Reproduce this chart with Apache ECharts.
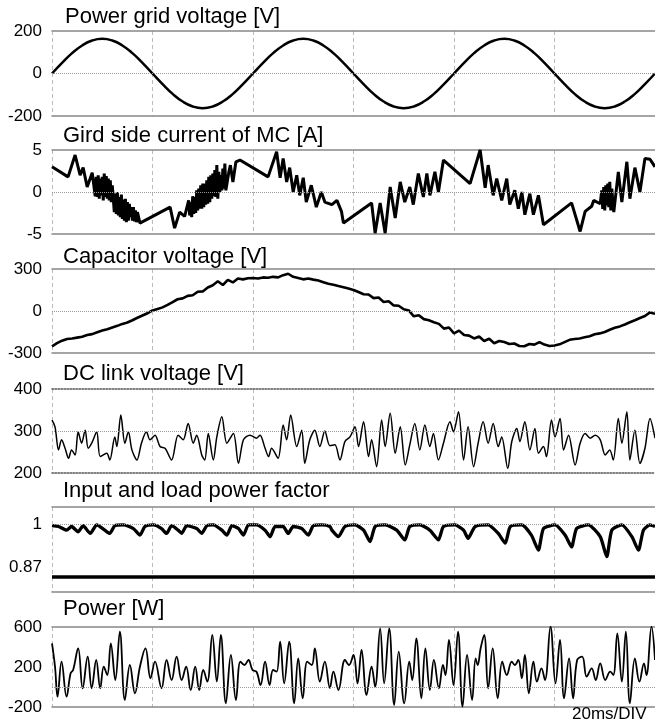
<!DOCTYPE html>
<html>
<head>
<meta charset="utf-8">
<script src="https://cdn.jsdelivr.net/npm/echarts@6/dist/echarts.min.js"></script>
<style>html,body{margin:0;padding:0;background:#fff}#main{width:655px;height:722px}</style>
</head>
<body>
<div id="main"></div>
<script>
// time axis in ms, 20ms per division
var timeTicks = [0, 20, 40, 60, 80, 100, 120];

// grid voltage, one value every 2 ms
var gridVoltage = [0, 50, 96, 132, 155, 163, 155, 132, 96, 50, 0, -50, -96, -132, -155, -163, -155, -132, -96, -50,
    0, 50, 96, 132, 155, 163, 155, 132, 96, 50, 0, -50, -96, -132, -155, -163, -155, -132, -96, -50,
    0, 50, 96, 132, 155, 163, 155, 132, 96, 50, 0, -50, -96, -132, -155, -163, -155, -132, -96, -50, 0];

// grid side current [ms, A]
var gridCurrent = [[0,3.0],[3.2,1.8],[4.6,4.4],[5.6,2.0],[6.2,2.9],[7.0,0.6],[8.0,2.3],
    [8.6,-0.5],[8.8,1.8],[9.0,-0.6],[9.2,2.0],[9.4,-0.8],[9.6,1.6],[9.8,-0.4],[10.0,1.8],[10.2,-1.0],[10.4,2.2],[10.6,-0.6],[10.8,1.9],[11.0,-0.8],[11.2,1.6],[11.4,-1.0],[11.6,1.4],[11.8,-1.2],[12.0,0.8],
    [12.2,0.6],[12.4,-2.4],[12.6,-0.2],[12.8,-2.6],[13.0,0.0],[13.2,-2.8],[13.4,-0.6],[13.6,-3.0],[13.8,-0.3],[14.0,-3.2],[14.2,-0.9],[14.4,-3.4],[14.6,-0.8],[14.8,-3.6],[15.0,-1.2],[15.2,-3.4],[15.4,-1.4],[15.6,-3.0],[15.8,-1.8],[16.0,-3.4],[16.2,-1.8],[16.4,-3.5],[16.6,-2.2],[16.8,-3.6],[17.0,-2.4],[17.5,-3.7],
    [23.5,-1.8],[24.4,-4.3],[25.4,-2.4],[26.4,-2.9],
    [27.2,-1.0],[27.4,-2.8],[27.6,-1.2],[27.8,-3.0],[28.0,-0.5],[28.2,-2.6],[28.4,-0.6],[28.6,-2.5],[28.8,0.2],[29.0,-2.2],[29.2,0.4],[29.4,-2.0],[29.6,0.8],[29.8,-2.0],[30.0,1.0],[30.2,-1.8],[30.4,1.0],[30.6,-1.5],[30.8,1.4],[31.0,-1.4],[31.2,1.8],[31.4,-1.2],[31.6,2.0],[31.8,-0.8],[32.0,2.2],[32.2,-0.5],[32.4,2.6],[32.6,-0.6],[32.8,3.2],[33.0,-0.8],[33.2,2.4],[33.4,0.0],[33.6,2.0],[33.8,0.2],[34.0,2.8],[34.2,0.4],[34.4,3.4],[34.6,0.2],[34.8,0.0],[35.2,2.4],[35.5,3.2],[36.0,1.2],[36.6,3.6],[37.4,3.8],
    [43.0,1.8],[44.7,4.8],[45.4,1.7],[46.0,4.0],[46.7,1.2],[47.3,2.9],[48.0,0.0],[48.7,2.0],[49.3,-0.4],[50.0,1.7],[50.6,-1.2],[51.6,0.8],[52.6,-1.8],[53.6,0.0],[54.3,-1.2],[55.7,-1.5],[56.7,-1.0],[57.6,-2.3],[58.0,-3.7],
    [63.6,-1.3],[64.3,-4.9],[65.3,-1.3],[66.3,-4.9],[67.3,0.6],[68.3,-3.1],[69.3,1.2],[70.2,-1.2],[71.2,0.6],[71.9,-1.5],[72.9,2.2],[73.9,-0.6],[74.6,2.2],[75.2,-0.4],[76.2,2.4],[76.9,0.0],[77.9,3.8],
    [83.2,1.0],[85.2,5.0],[86.2,0.5],[86.8,3.2],[87.8,-0.4],[88.5,1.6],[89.5,-1.0],[90.5,1.6],[91.1,-1.5],[92.1,0.2],[92.8,-2.0],[93.5,0.0],[94.1,-2.7],[95.1,-0.2],[95.8,-2.7],[96.8,-0.4],[97.8,-3.9],
    [103.4,-1.3],[105.1,-4.7],[106.1,-2.3],[107.4,-1.7],[107.8,-1.0],[109.1,-1.4],
    [109.4,0.2],[109.6,-2.0],[109.8,0.6],[110.0,-2.2],[110.2,0.8],[110.4,-1.6],[110.6,1.0],[110.8,-1.8],[111.0,1.2],[111.2,-2.2],[111.4,0.4],[111.8,-2.4],
    [112.7,2.4],[113.4,-1.2],[114.4,3.6],[115.0,-0.8],[116.0,2.9],[117.0,0.0],[118.0,4.0],[119.0,3.9],[120,3.0]];

// capacitor voltage, one value every 1 ms
var capVoltage = [-252,-230,-212,-200,-196,-190,-184,-172,-165,-152,-140,-130,-118,-106,-92,-82,-66,-48,-32,-16,
    4,14,26,44,64,84,90,108,112,138,140,168,184,212,186,222,204,232,226,234,
    236,232,240,238,244,240,256,266,244,236,226,232,224,218,206,194,188,178,170,160,
    150,136,120,118,92,96,64,70,40,38,12,4,-38,-30,-58,-66,-80,-92,-126,-118,
    -160,-140,-172,-176,-196,-182,-214,-198,-230,-214,-222,-236,-232,-250,-252,-236,-240,-222,-240,-250,
    -246,-238,-222,-206,-200,-196,-188,-180,-166,-160,-150,-134,-120,-110,-96,-80,-66,-50,-36,-10,-20];

// DC link voltage [ms, V]
var dcLink = [[0,326],[0.6,310],[1.3,255],[1.9,279],[2.6,259],[3.3,235],[3.9,255],[4.6,243],[5.2,298],[5.9,271],[6.6,302],[7.2,259],[7.9,271],[8.9,298],[9.6,239],[10.9,247],[11.5,231],[12.5,286],[12.9,263],[13.7,338],[14.5,271],[15.2,298],[15.9,255],[16.9,231],[17.8,271],[18.8,298],[19.5,279],
    [20.5,290],[21.5,263],[22.5,259],[23.8,231],[25.1,290],[26.1,279],[27.1,318],[28.1,271],[28.8,290],[29.8,243],[30.4,231],[31.1,294],[32.1,231],[32.8,286],[33.8,334],[34.8,271],[36.1,294],[37.1,223],[38.1,279],[39.4,290],
    [40.7,283],[41.4,290],[42.4,259],[43.1,239],[43.7,259],[45.0,235],[46.0,314],[46.7,279],[47.5,338],[48.7,263],[49.7,302],[50.3,223],[51.3,279],[52.3,302],[53.3,263],[54.3,300],[55.3,265],[56.3,267],[57.3,231],[58.3,275],[59.3,286],
    [60.3,310],[61.0,263],[62.0,322],[63.0,239],[63.6,279],[64.6,215],[65.6,326],[66.3,263],[67.3,342],[68.3,247],[69.3,310],[70.3,219],[71.2,267],[72.2,318],[73.2,255],[74.2,314],[75.2,263],[75.9,294],[76.9,231],[77.9,271],[79.2,322],[79.9,298],
    [80.9,346],[81.9,231],[82.8,310],[83.9,215],[84.8,271],[85.8,322],[86.8,271],[87.8,318],[88.8,263],[89.5,286],[90.7,211],[91.5,275],[92.5,306],[93.1,275],[94.1,322],[95.1,255],[96.1,306],[96.8,247],[97.8,263],[98.4,239],[99.4,326],
    [100.1,286],[101.1,330],[101.8,255],[102.8,290],[104.1,219],[105.1,271],[106.1,294],[107.1,283],[108.1,290],[109.1,279],[110.1,243],[111.0,255],[111.7,231],[112.7,330],[113.4,271],[114.4,346],[115.0,231],[116.0,302],[117.0,223],[118.0,259],[119.0,330],[120,283]];

// input power factor [ms, pf]
var inputPf = [[0,0.996],[1.3,0.994],[2.9,0.985],[3.9,0.994],[5.2,0.981],[6.2,0.996],[7.6,0.977],[8.9,0.998],[10.5,0.985],[11.5,0.977],[12.5,0.996],[14.2,0.998],[16.2,0.989],[17.5,0.973],[18.5,0.994],
    [20.2,0.998],[21.8,0.989],[22.8,0.977],[23.8,0.996],[25.1,0.985],[25.8,0.977],[26.8,0.996],[28.8,0.989],[29.8,0.977],[30.8,0.996],[32.1,0.998],[33.8,0.985],[34.8,0.973],[35.8,0.996],[37.1,0.989],[38.1,0.973],[39.1,0.998],
    [40.7,0.998],[42.4,0.985],[43.4,0.969],[44.4,0.994],[46.0,0.994],[47.0,0.977],[48.0,0.994],[49.7,0.989],[51.0,0.973],[52.0,0.996],[53.7,0.998],[55.3,0.994],[55.7,0.985],[57.0,0.969],[58.3,0.994],
    [60.3,0.998],[62.0,0.985],[63.3,0.957],[64.3,0.994],[66.3,0.998],[68.6,0.985],[70.2,0.961],[71.2,0.994],[73.2,0.998],[75.2,0.985],[76.9,0.961],[77.9,0.994],
    [80.2,0.998],[81.9,0.985],[82.8,0.965],[84.2,0.994],[86.8,0.998],[88.8,0.977],[90.2,0.953],[91.2,0.994],[93.5,0.998],[95.4,0.973],[96.8,0.936],[97.8,0.989],
    [100.1,0.998],[102.1,0.973],[103.4,0.944],[104.4,0.989],[106.7,0.998],[109.1,0.969],[110.4,0.920],[111.4,0.985],[113.4,0.998],[115.4,0.969],[116.7,0.936],[117.7,0.985],[119.0,0.998],[120,0.994]];

// load power factor
var loadPfTime = [0, 120];
var loadPf = [0.87, 0.87];

// power [ms, W]
var power = [[0,437],[0.6,203],[1.1,-97],[1.9,253],[2.9,-97],[3.7,137],[4.2,170],[5.2,387],[6.1,-13],[7.1,303],[7.9,-13],[8.8,270],[9.6,-13],[10.3,203],[11.0,120],[11.7,437],[12.6,70],[13.5,553],[14.5,-130],[15.5,220],[16.5,-63],[17.5,203],[18.6,387],[19.6,87],
    [20.5,253],[21.8,-13],[22.8,270],[23.8,70],[24.8,303],[25.8,70],[26.7,203],[27.6,-30],[28.5,203],[29.3,-30],[30.1,170],[30.9,53],[31.9,520],[32.8,53],[33.6,520],[34.6,-163],[35.6,320],[36.6,-130],[37.5,253],[38.3,220],[39.1,270],[39.9,170],
    [40.7,153],[41.5,20],[42.4,253],[43.3,20],[44.0,170],[44.7,153],[45.4,453],[46.2,37],[47.2,453],[48.2,-163],[49.0,287],[49.9,-113],[50.8,253],[51.7,220],[52.3,387],[53.3,53],[54.3,253],[55.3,-10],[56.0,153],[57.0,-30],[58.3,270],[59.1,220],
    [60.0,320],[60.8,37],[61.6,370],[62.6,-80],[63.6,203],[64.3,3],[65.3,587],[66.1,37],[67.1,587],[68.1,-180],[69.0,353],[70.1,-163],[71.1,253],[71.7,70],[72.5,487],[73.5,-113],[74.3,387],[75.2,-30],[76.0,270],[77.0,-13],[77.8,220],[78.3,120],[79.0,470],[79.9,20],
    [80.8,553],[81.7,-197],[82.6,320],[83.6,-130],[84.3,287],[84.7,220],[85.3,387],[86.0,520],[86.8,-13],[87.7,387],[88.7,-113],[89.6,253],[90.5,120],[91.5,253],[92.1,220],[92.8,270],[93.5,87],[94.1,320],[94.9,-63],[95.8,253],[96.5,53],[97.4,187],[98.1,70],[99.2,603],
    [100.2,37],[101.1,470],[101.9,-113],[102.9,287],[103.7,-113],[104.5,270],[105.5,303],[106.4,103],[107.4,187],[108.2,70],[109.1,237],[110.1,70],[111.1,153],[111.7,120],[112.5,537],[113.4,53],[114.2,553],[115.0,-163],[116.0,287],[116.9,53],[117.8,237],[118.3,120],[119.3,603],[120,270]];

var titles = ['Power grid voltage [V]', 'Gird side current of MC [A]', 'Capacitor voltage [V]', 'DC link voltage [V]', 'Input and load power factor', 'Power [W]'];
var yMin = [-200, -5, -300, 200, 0.833, -200];
var yMax = [200, 5, 300, 400, 1.042, 600];
var yStep = [200, 5, 300, 100, null, 400];
var refLevel = [0, 0, 0, 300, 1, 0];

var myChart = echarts.init(document.getElementById('main'), null, {renderer: 'canvas'});

var font = 'Liberation Sans, Arial, sans-serif';
var gridTop = [31, 150, 269, 389, 507, 627];
var gridH = [85, 84, 84, 84, 85, 80];
var titleTop = [6, 125, 246, 363, 480, 598];

var grids = [], xAxes = [], yAxes = [], series = [], titleList = [];
for (var i = 0; i < 6; i++) {
    var borderType = i == 3 ? 'dotted' : 'solid';
    var borderColor = i == 3 ? '#555' : '#888';
    grids.push({left: 52, right: 0, top: gridTop[i], height: gridH[i]});
    titleList.push({
        text: titles[i], left: i == 0 ? 65 : 63, top: titleTop[i], padding: 0,
        textStyle: {fontSize: 22, fontWeight: 'normal', color: '#000', fontFamily: font}
    });
    xAxes.push({
        type: 'value', gridIndex: i, min: timeTicks[0], max: timeTicks[timeTicks.length - 1], interval: 20,
        axisLabel: {show: false}, axisTick: {show: false},
        axisLine: {show: true, onZero: false, lineStyle: {color: borderColor, width: 1.5, type: borderType}},
        splitLine: {show: true, lineStyle: {color: '#bbb', width: 1, type: [4, 3]}}
    });
    xAxes.push({
        type: 'value', gridIndex: i, position: 'top', min: 0, max: 120,
        axisLabel: {show: false}, axisTick: {show: false}, splitLine: {show: false},
        axisLine: {show: true, onZero: false, lineStyle: {color: borderColor, width: 1.5, type: borderType}}
    });
    var ya = {
        type: 'value', gridIndex: i, min: yMin[i], max: yMax[i],
        axisLine: {show: false}, axisTick: {show: false}, splitLine: {show: false},
        axisLabel: {color: '#000', fontSize: 17, fontFamily: font, margin: 10}
    };
    if (yStep[i]) {
        ya.interval = yStep[i];
    } else {
        ya.axisLabel.customValues = [1, 0.87];
        ya.axisLabel.formatter = function (v) {
            return v > 0.95 ? '1' : '{up|0.87}';
        };
        ya.axisLabel.rich = {up: {fontSize: 17, color: '#000', fontFamily: font, padding: [0, 0, 20, 0]}};
    }
    yAxes.push(ya);
}

var refLine = function (lvl) {
    return {
        silent: true, symbol: 'none', label: {show: false},
        lineStyle: {color: '#999', type: 'dotted', width: 1},
        data: [{yAxis: lvl}]
    };
};

var seriesData = [
    gridVoltage.map(function (v, k) { return [k * 2, v]; }),
    gridCurrent,
    capVoltage.map(function (v, k) { return [k, v]; }),
    dcLink,
    inputPf,
    power
];
var widths = [2.5, 3, 2.6, 1.5, 3.3, 1.8];
var smooths = [true, false, false, 0.3, 0.2, 0.4];
for (var j = 0; j < 6; j++) {
    series.push({
        type: 'line', xAxisIndex: j * 2, yAxisIndex: j, data: seriesData[j],
        showSymbol: false, smooth: smooths[j],
        lineStyle: {color: '#000', width: widths[j]},
        markLine: refLine(refLevel[j]),
        z: 3
    });
}
series.push({
    type: 'line', xAxisIndex: 8, yAxisIndex: 4,
    data: loadPfTime.map(function (t, k) { return [t, loadPf[k]]; }),
    showSymbol: false, lineStyle: {color: '#000', width: 3.5}
});

titleList.push({
    text: '20ms/DIV', left: 572, top: 706, padding: 0,
    textStyle: {fontSize: 17, fontWeight: 'normal', color: '#000', fontFamily: font}
});

var option = {
    animation: false,
    backgroundColor: '#fff',
    title: titleList,
    grid: grids,
    xAxis: xAxes,
    yAxis: yAxes,
    series: series
};
myChart.setOption(option);
</script>
</body>
</html>
